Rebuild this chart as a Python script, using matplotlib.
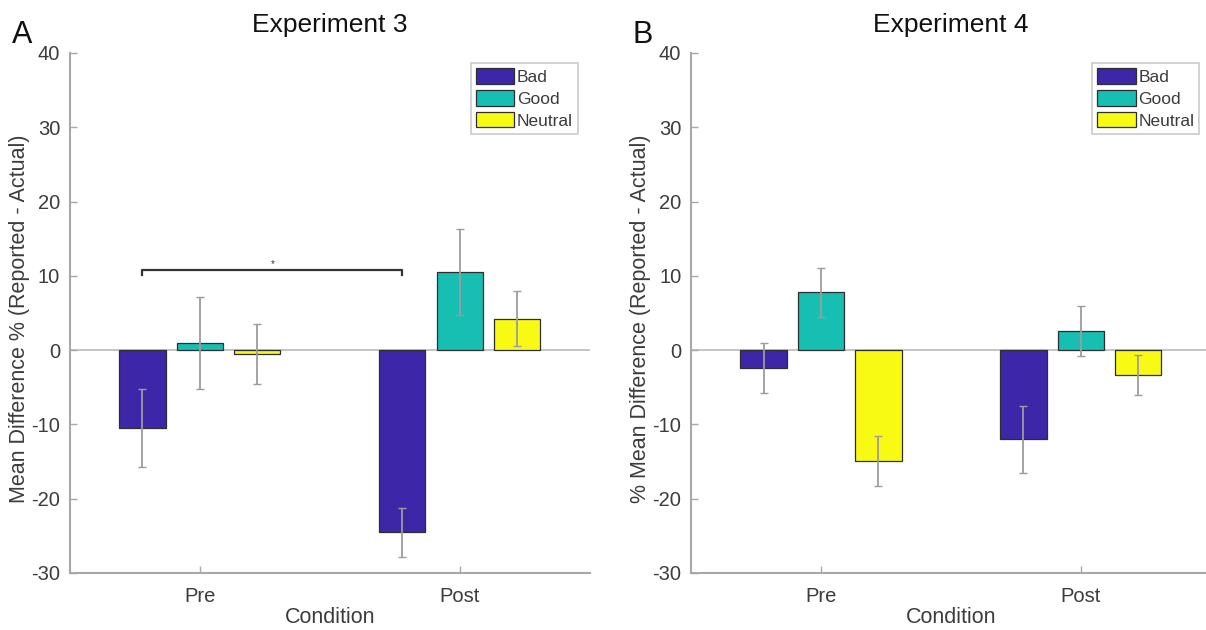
import numpy as np
import matplotlib.pyplot as plt

plt.rcParams["font.family"] = ["Liberation Sans", "DejaVu Sans"]
plt.rcParams["axes.unicode_minus"] = False

conditions = ["Pre", "Post"]
groups = ["Bad", "Good", "Neutral"]
colors = ["#3E26A8", "#17BEB2", "#F8FA14"]

# Experiment 3 means and error half-widths, per group: [Pre, Post]
exp3_means = {"Bad": [-10.5, -24.5], "Good": [1.0, 10.5], "Neutral": [-0.55, 4.2]}
exp3_err = {"Bad": [5.3, 3.3], "Good": [6.2, 5.8], "Neutral": [4.0, 3.7]}

# Experiment 4
exp4_means = {"Bad": [-2.4, -12.0], "Good": [7.8, 2.6], "Neutral": [-14.9, -3.3]}
exp4_err = {"Bad": [3.4, 4.5], "Good": [3.3, 3.4], "Neutral": [3.4, 2.7]}

yticks = [-30, -20, -10, 0, 10, 20, 30, 40]

AXIS_GREY = "#A8A8A8"
TEXT_GREY = "#3C3C3C"
offset = 0.221
width = 0.178


def draw_panel(ax, means, errs, title, ylabel, letter):
    x = np.arange(1, len(conditions) + 1)
    ax.axhline(0, color="#C4C4C4", lw=1.4, zorder=1)
    for i, g in enumerate(groups):
        xs = x + (i - 1) * offset
        ax.bar(xs, means[g], width, color=colors[i], edgecolor="#2E2E2E",
               linewidth=0.9, label=g, zorder=2)
        ax.errorbar(xs, means[g], yerr=errs[g], fmt="none", ecolor="#9C9C9C",
                    elinewidth=1.3, capsize=3, capthick=1.0, zorder=3)
    ax.set_xlim(0.5, 2.5)
    ax.set_ylim(-30, 40)
    ax.set_yticks(yticks)
    ax.set_xticks(x)
    ax.set_xticklabels(conditions)
    for side in ("top", "right"):
        ax.spines[side].set_visible(False)
    for side in ("left", "bottom"):
        ax.spines[side].set_color(AXIS_GREY)
        ax.spines[side].set_linewidth(1.5)
    ax.tick_params(direction="in", length=5, width=1, color=AXIS_GREY,
                   labelcolor=TEXT_GREY, labelsize=14.5)
    ax.tick_params(axis="y", pad=7)
    ax.tick_params(axis="x", pad=10)
    ax.set_xlabel("Condition", fontsize=15.5, color=TEXT_GREY, labelpad=1)
    ax.set_ylabel(ylabel, fontsize=15.5, color=TEXT_GREY)
    ax.yaxis.set_label_coords(-0.077, 0.488)
    ax.set_title(title, fontsize=19, color="#111111", pad=15)
    ax.text(-0.112, 1.005, letter, transform=ax.transAxes, fontsize=22,
            color="#111111", ha="left", va="bottom")
    leg = ax.legend(loc="upper right", bbox_to_anchor=(0.978, 0.981),
                    fontsize=12.5, frameon=True, fancybox=False,
                    handlelength=2.2, handleheight=1.0, handletextpad=0.15,
                    labelspacing=0.3, borderpad=0.3, borderaxespad=0.0)
    leg.get_frame().set_edgecolor("#BDBDBD")
    leg.get_frame().set_linewidth(1.2)
    for t in leg.get_texts():
        t.set_color(TEXT_GREY)
    return x


fig = plt.figure(figsize=(12.06, 6.3), dpi=100)
ax1 = fig.add_axes([0.058, 0.0905, 0.431, 0.8254])
ax2 = fig.add_axes([0.573, 0.0905, 0.431, 0.8254])

x1 = draw_panel(ax1, exp3_means, exp3_err, "Experiment 3",
                "Mean Difference % (Reported - Actual)", "A")
draw_panel(ax2, exp4_means, exp4_err, "Experiment 4",
           "% Mean Difference (Reported - Actual)", "B")

# significance bracket between Bad Pre and Bad Post
bx0, bx1 = x1[0] - offset, x1[1] - offset
ax1.plot([bx0, bx0, bx1, bx1], [10.1, 10.75, 10.75, 10.1], color="#333333",
         lw=1.6, zorder=4)
ax1.text((bx0 + bx1) / 2, 10.9, "*", ha="center", va="bottom", fontsize=7,
         color="#333333")

fig.savefig("out.png", dpi=100)
